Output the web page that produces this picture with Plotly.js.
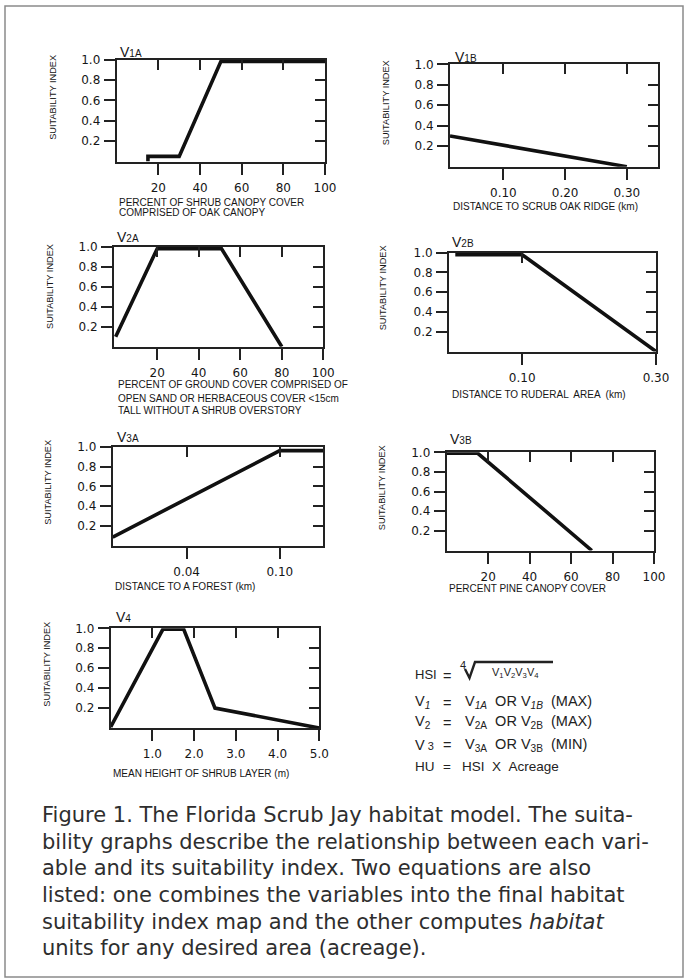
<!DOCTYPE html>
<html>
<head>
<meta charset="utf-8">
<script src="https://cdn.plot.ly/plotly-3.0.1.min.js"></script>
<style>html,body{margin:0;padding:0;background:#fff;}#chart{width:687px;height:980px;}</style>
</head>
<body>
<div id="chart"></div>
<script>
// ---------- data ----------
const v1aX = [15, 15, 30, 50, 100];
const v1aY = [0, 0.05, 0.05, 0.98, 0.98];
const v1bX = [0.0135, 0.30];
const v1bY = [0.30, 0.0];
const v2aX = [0, 20, 51, 80];
const v2aY = [0.10, 0.98, 0.98, 0.0];
const v2bX = [0, 0.10, 0.30];
const v2bY = [0.98, 0.98, 0.0];
const v3aX = [-0.0076, 0.10, 0.128];
const v3aY = [0.09, 0.96, 0.96];
const v3bX = [0, 15, 70];
const v3bY = [0.99, 0.99, 0.0];
const v4X = [0, 1.25, 1.75, 2.5, 5.0];
const v4Y = [0.01, 0.99, 0.99, 0.20, 0.0];

const yTicks = [0.2, 0.4, 0.6, 0.8, 1.0];
const yInnerTicks = [0.2, 0.4, 0.6, 0.8];

const sub = s => 'V<span style="font-size:10px">' + s + '</span>';
const panelNames = [sub('1A'), sub('1B'), sub('2A'), sub('2B'), sub('3A'), sub('3B'), sub('4')];
const xTitles = [
  ['PERCENT OF SHRUB CANOPY COVER', 'COMPRISED OF OAK CANOPY'],
  ['DISTANCE TO SCRUB OAK RIDGE (km)'],
  ['PERCENT OF GROUND COVER COMPRISED OF', 'OPEN SAND OR HERBACEOUS COVER <15cm', 'TALL WITHOUT A SHRUB OVERSTORY'],
  ['DISTANCE TO RUDERAL  AREA  (km)'],
  ['DISTANCE TO A FOREST (km)'],
  ['PERCENT PINE CANOPY COVER'],
  ['MEAN HEIGHT OF SHRUB LAYER (m)']
];
const yTitle = 'SUITABILITY INDEX';

const captionLines = [
  'Figure 1. The Florida Scrub Jay habitat model. The suita-',
  'bility graphs describe the relationship between each vari-',
  'able and its suitability index. Two equations are also',
  'listed: one combines the variables into the final habitat',
  'suitability index map and the other computes <i>habitat</i>',
  'units for any desired area (acreage).'
];

// ---------- panel geometry (pixels) ----------
const W = 687, H = 980;
const panels = [
  {x: v1aX, y: v1aY, box: [116.7, 325, 59.5, 161.5], range: [0, 100], ticks: [20, 40, 60, 80, 100], top: [20, 40, 60, 80], fmt: 'd',
   name: [118, 52], yt: [52.3, 97.5], xt: [116.7, [202.7, 212.7]]},
  {x: v1bX, y: v1bY, box: [450, 658.3, 64.3, 166.7], range: [0.0135, 0.351], ticks: [0.1, 0.2, 0.3], top: [0.1, 0.2, 0.3], fmt: '.2f',
   name: [453, 57.5], yt: [386.7, 102.5], xt: [451, [206.7]]},
  {x: v2aX, y: v2aY, box: [114, 323.3, 246.7, 346.7], range: [-0.8, 100], ticks: [20, 40, 60, 80, 100], top: [20, 40, 60, 80], fmt: 'd',
   name: [115, 237], yt: [50, 286], xt: [116, [385, 398.3, 410.5]]},
  {x: v2bX, y: v2bY, box: [449, 656, 252.7, 351.5], range: [-0.0094, 0.30], ticks: [0.1, 0.3], top: [0.1], fmt: '.2f',
   name: [450, 241.5], yt: [383.3, 288], xt: [450, [394.3]]},
  {x: v3aX, y: v3aY, box: [112.7, 323.3, 446.7, 546], range: [-0.0076, 0.128], ticks: [0.04, 0.10], top: [0.04, 0.10], fmt: '.2f',
   name: [115, 436.5], yt: [48.3, 482.5], xt: [113, [586]]},
  {x: v3bX, y: v3bY, box: [446.7, 654, 452.3, 550.5], range: [0, 100], ticks: [20, 40, 60, 80, 100], top: [20, 40, 60, 80], fmt: 'd',
   name: [448, 439], yt: [381.7, 487.5], xt: [446.7, [588.3]]},
  {x: v4X, y: v4Y, box: [110.7, 319.3, 628.3, 728], range: [0, 5], ticks: [1, 2, 3, 4, 5], top: [1, 2, 3, 4], fmt: '.1f',
   name: [114, 617], yt: [46.7, 664], xt: [110.7, [773.3]]}
];

const px = v => v / W;
const py = v => 1 - v / H;

const ink = '#161616';
const data = [];
const layout = {
  width: W, height: H,
  margin: {l: 0, r: 0, t: 0, b: 0},
  paper_bgcolor: '#ffffff', plot_bgcolor: 'rgba(0,0,0,0)',
  showlegend: false,
  font: {family: 'Liberation Sans, Arial, sans-serif', color: ink},
  annotations: [], shapes: []
};

const N = panels.length;
panels.forEach((p, i) => {
  const k = i + 1, o = i + 1 + N;
  const xd = [px(p.box[0]), px(p.box[1])];
  const yd = [py(p.box[3]), py(p.box[2])];
  data.push({x: p.x, y: p.y, xaxis: 'x' + k, yaxis: 'y' + k, type: 'scatter', mode: 'lines',
    line: {color: '#111', width: 3.6}, hoverinfo: 'skip'});
  data.push({x: [], y: [], xaxis: 'x' + o, yaxis: 'y' + o, type: 'scatter', mode: 'lines', hoverinfo: 'skip'});
  const common = {showgrid: false, zeroline: false, fixedrange: true};
  layout['xaxis' + k] = Object.assign({}, common, {
    domain: xd, anchor: 'y' + k, range: p.range, tickmode: 'array', tickvals: p.ticks, tickformat: p.fmt,
    ticks: 'outside', ticklen: 11, tickwidth: 2, tickcolor: '#222',
    showline: true, mirror: true, linecolor: '#222', linewidth: 2,
    tickfont: {family: 'DejaVu Sans', size: 12, color: ink}, ticklabelstandoff: 3
  });
  layout['yaxis' + k] = Object.assign({}, common, {
    domain: yd, anchor: 'x' + k, range: [0, 1], tickmode: 'array', tickvals: yTicks, tickformat: '.1f',
    ticks: 'outside', ticklen: 11, tickwidth: 2, tickcolor: '#222',
    showline: true, mirror: true, linecolor: '#222', linewidth: 2,
    tickfont: {family: 'DejaVu Sans', size: 12, color: ink}, ticklabelstandoff: 1
  });
  layout['xaxis' + o] = Object.assign({}, common, {
    overlaying: 'x' + k, side: 'top', anchor: 'y' + o, range: p.range, tickmode: 'array', tickvals: p.top,
    ticks: 'inside', ticklen: 10, tickwidth: 2, tickcolor: '#222', showticklabels: false, showline: false
  });
  layout['yaxis' + o] = Object.assign({}, common, {
    overlaying: 'y' + k, side: 'right', anchor: 'x' + o, range: [0, 1], tickmode: 'array', tickvals: yInnerTicks,
    ticks: 'inside', ticklen: 10, tickwidth: 2, tickcolor: '#222', showticklabels: false, showline: false
  });
  layout.annotations.push({xref: 'paper', yref: 'paper', x: px(p.name[0]), y: py(p.name[1]), xanchor: 'left', yanchor: 'middle',
    text: panelNames[i], showarrow: false, font: {family: 'Liberation Sans', size: 14, color: ink}});
  layout.annotations.push({xref: 'paper', yref: 'paper', x: px(p.yt[0]), y: py(p.yt[1]), xanchor: 'center', yanchor: 'middle',
    text: yTitle, textangle: -90, showarrow: false, font: {family: 'Liberation Sans', size: 9.2, color: ink}});
  xTitles[i].forEach((t, j) => {
    layout.annotations.push({xref: 'paper', yref: 'paper', x: px(p.xt[0]), y: py(p.xt[1][j]), xanchor: 'left', yanchor: 'middle',
      text: t.replace('<', '&lt;'), showarrow: false, font: {family: 'Liberation Sans', size: 10, color: ink}});
  });
});

// ---------- equations ----------
const eqFont = {family: 'Liberation Sans', size: 14.5, color: '#222'};
const eq = (x, y, text, anchor, font) => layout.annotations.push({xref: 'paper', yref: 'paper', x: px(x), y: py(y),
  xanchor: anchor || 'left', yanchor: 'middle', text: text, showarrow: false, font: font || eqFont});
eq(413, 674, 'HSI', 'left', {family: 'Liberation Sans', size: 13, color: '#222'});
eq(447, 676, '=', 'center');
eq(458, 665, '4', 'left', {family: 'Liberation Sans', size: 11, color: '#222'});
eq(490, 673, 'V<sub>1</sub>V<sub>2</sub>V<sub>3</sub>V<sub>4</sub>', 'left', {family: 'Liberation Sans', size: 11, color: '#222'});
// radical sign
const rad = [[465, 669], [469.5, 678], [475, 662], [553, 662]];
layout.shapes.push({type: 'path', xref: 'paper', yref: 'paper',
  path: 'M' + rad.map(q => px(q[0]) + ',' + py(q[1])).join(' L'), line: {color: '#222', width: 2.4}});

eq(413, 702, 'V<sub><i>1</i></sub>');
eq(447, 703, '=', 'center');
eq(463, 702, 'V<sub><i>1A</i></sub>\u00A0\u00A0OR\u00A0V<sub><i>1B</i></sub>\u00A0\u00A0(MAX)');
eq(413, 722, 'V<sub>2</sub>');
eq(447, 723, '=', 'center');
eq(463, 722, 'V<sub>2A</sub>\u00A0\u00A0OR\u00A0V<sub>2B</sub>\u00A0\u00A0(MAX)');
eq(413, 745, 'V<span style="font-size:11px">\u00A03</span>');
eq(447, 745, '=', 'center');
eq(463, 745, 'V<sub>3A</sub>\u00A0\u00A0OR\u00A0V<sub>3B</sub>\u00A0\u00A0(MIN)');
eq(413, 766, 'HU', 'left', {family: 'Liberation Sans', size: 13.5, color: '#222'});
eq(447, 766, '=', 'center', {family: 'Liberation Sans', size: 13.5, color: '#222'});
eq(460, 766, 'HSI\u00A0\u00A0X\u00A0\u00A0Acreage', 'left', {family: 'Liberation Sans', size: 13.5, color: '#222'});

// ---------- caption (one annotation per printed line) ----------
captionLines.forEach((t, j) => {
  layout.annotations.push({xref: 'paper', yref: 'paper', x: px(40), y: py(815 + j * 26.67), xanchor: 'left', yanchor: 'middle',
    align: 'left', text: t, showarrow: false, font: {family: 'DejaVu Sans', size: 21, color: '#2e2e2e'}});
});

// ---------- page border ----------
layout.shapes.push({type: 'rect', xref: 'paper', yref: 'paper', x0: px(5), x1: px(683), y0: py(977), y1: py(6),
  line: {color: '#8a8a8a', width: 1.5}});

Plotly.newPlot('chart', data, layout, {staticPlot: true, displayModeBar: false});
</script>
</body>
</html>
